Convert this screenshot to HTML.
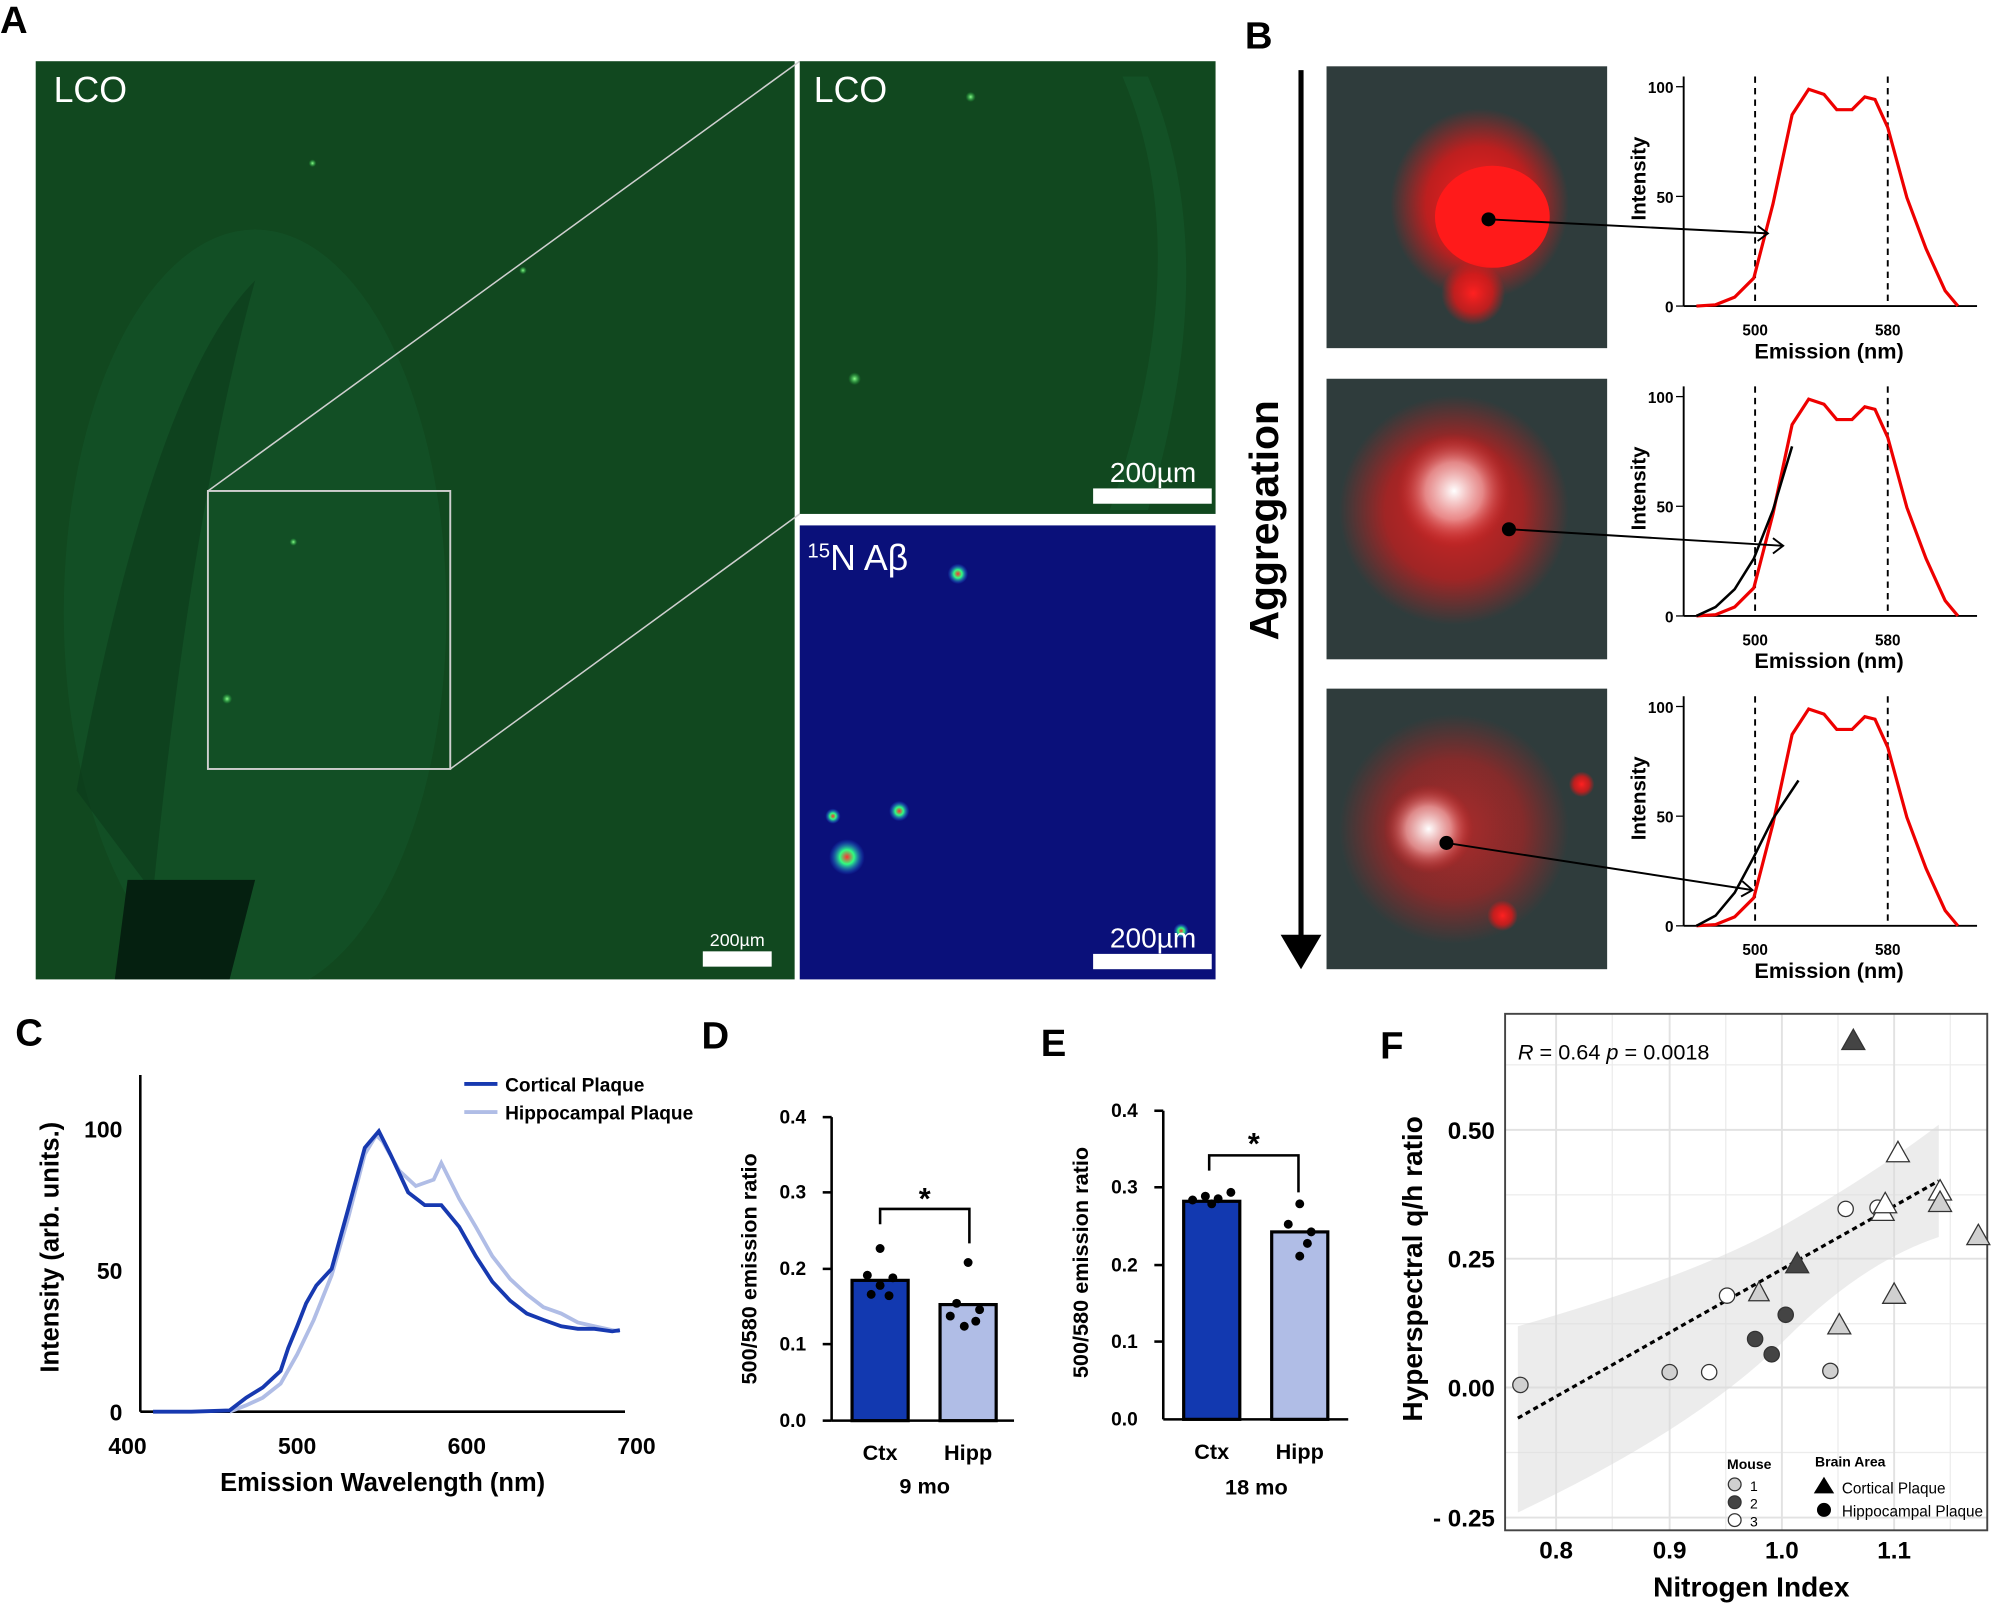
<!DOCTYPE html>
<html><head><meta charset="utf-8"><style>html,body{margin:0;padding:0;background:#fff}svg{display:block}text{font-family:"Liberation Sans",sans-serif}</style></head><body>
<svg width="2000" height="1603" viewBox="0 0 1568 1257" preserveAspectRatio="none" xmlns="http://www.w3.org/2000/svg">
<defs>
<clipPath id="ca"><rect x="28" y="48" width="595" height="720"/></clipPath>
<radialGradient id="rb" cx="50%" cy="50%" r="50%"><stop offset="0" stop-color="#ff2020"/><stop offset="0.6" stop-color="#e01818" stop-opacity="0.8"/><stop offset="1" stop-color="#e01818" stop-opacity="0"/></radialGradient>
<radialGradient id="wb" cx="50%" cy="50%" r="50%"><stop offset="0" stop-color="#ffffff"/><stop offset="0.5" stop-color="#f0a0a0" stop-opacity="0.8"/><stop offset="1" stop-color="#d02020" stop-opacity="0"/></radialGradient>
<radialGradient id="gd" cx="50%" cy="50%" r="50%"><stop offset="0" stop-color="#8cff8c"/><stop offset="1" stop-color="#20c040" stop-opacity="0"/></radialGradient>
<radialGradient id="nd" cx="50%" cy="50%" r="50%"><stop offset="0" stop-color="#ff3030"/><stop offset="0.4" stop-color="#30ff80"/><stop offset="1" stop-color="#2060ff" stop-opacity="0"/></radialGradient>
</defs>
<!-- Panel A -->
<text x="0" y="26" font-size="30" font-weight="bold">A</text>
<rect x="28" y="48" width="595" height="720" fill="#11481f"/>
<g clip-path="url(#ca)">
<ellipse cx="200" cy="480" rx="150" ry="300" fill="#14552a" opacity="0.6"/>
<path d="M60 620 Q120 300 200 220 Q150 400 120 700 Z" fill="#0c3a1a" opacity="0.6"/>
<path d="M100 690 L200 690 L180 768 L90 768 Z" fill="#052010"/>
</g>
<rect x="163" y="385" width="190" height="218" fill="none" stroke="#cfcfcf" stroke-width="1.5"/>
<line x1="163" y1="385" x2="627" y2="48" stroke="#cfcfcf" stroke-width="1.2"/>
<line x1="353" y1="603" x2="627" y2="403" stroke="#cfcfcf" stroke-width="1.2"/>
<text x="42" y="80" font-size="28" fill="#fff">LCO</text>
<rect x="551" y="746" width="54" height="12" fill="#fff"/>
<text x="578" y="742" font-size="14" fill="#fff" text-anchor="middle">200µm</text>
<circle cx="245" cy="128" r="3" fill="url(#gd)"/><circle cx="178" cy="548" r="4" fill="url(#gd)"/><circle cx="230" cy="425" r="3" fill="url(#gd)"/><circle cx="410" cy="212" r="3" fill="url(#gd)"/>
<rect x="627" y="48" width="326" height="355" fill="#11481f"/>
<path d="M880 60 Q940 200 870 400 L900 400 Q960 200 900 60Z" fill="#14552a" opacity="0.7"/>
<text x="638" y="80" font-size="28" fill="#fff">LCO</text>
<circle cx="670" cy="297" r="5" fill="url(#gd)"/><circle cx="761" cy="76" r="4" fill="url(#gd)"/>
<rect x="857" y="383" width="93" height="12" fill="#fff"/>
<text x="904" y="378" font-size="22" fill="#fff" text-anchor="middle">200µm</text>
<rect x="627" y="412" width="326" height="356" fill="#0a107a"/>
<circle cx="664" cy="672" r="14" fill="url(#nd)"/><circle cx="705" cy="636" r="8" fill="url(#nd)"/><circle cx="751" cy="450" r="8" fill="url(#nd)"/><circle cx="653" cy="640" r="6" fill="url(#nd)"/><circle cx="926" cy="730" r="6" fill="url(#nd)"/>
<text x="633" y="447" font-size="28" fill="#fff"><tspan font-size="16" dy="-10">15</tspan><tspan dy="10">N Aβ</tspan></text>
<rect x="857" y="748" width="93" height="12" fill="#fff"/>
<text x="904" y="743" font-size="22" fill="#fff" text-anchor="middle">200µm</text>
<!-- Panel B -->
<text x="976" y="38" font-size="30" font-weight="bold">B</text>
<line x1="1020" y1="55" x2="1020" y2="735" stroke="#000" stroke-width="4"/>
<polygon points="1004,733 1036,733 1020,760" fill="#000"/>
<text transform="translate(1002,408) rotate(-90)" font-size="32" font-weight="bold" text-anchor="middle">Aggregation</text>
<rect x="1040" y="52" width="220" height="221" fill="#2f3c3c"/>
<ellipse cx="1160" cy="160" rx="70" ry="75" fill="url(#rb)"/><ellipse cx="1170" cy="170" rx="45" ry="40" fill="#ff1a1a"/><ellipse cx="1155" cy="230" rx="25" ry="25" fill="url(#rb)"/>
<rect x="1040" y="297" width="220" height="220" fill="#2f3c3c"/>
<ellipse cx="1140" cy="400" rx="90" ry="90" fill="url(#rb)" opacity="0.8"/><ellipse cx="1140" cy="385" rx="45" ry="45" fill="url(#wb)"/>
<rect x="1040" y="540" width="220" height="220" fill="#2f3c3c"/>
<ellipse cx="1140" cy="650" rx="90" ry="90" fill="url(#rb)" opacity="0.6"/><ellipse cx="1120" cy="650" rx="35" ry="35" fill="url(#wb)"/><circle cx="1178" cy="718" r="12" fill="url(#rb)"/><circle cx="1240" cy="615" r="10" fill="url(#rb)"/>
<g id="bp">
<line x1="1320" y1="60" x2="1320" y2="240" stroke="#000" stroke-width="1.5"/>
<line x1="1320" y1="240" x2="1550" y2="240" stroke="#000" stroke-width="1.5"/>
<line x1="1314" y1="68" x2="1320" y2="68" stroke="#000"/><line x1="1314" y1="154" x2="1320" y2="154" stroke="#000"/><line x1="1314" y1="240" x2="1320" y2="240" stroke="#000"/>
<text x="1312" y="73" font-size="12" font-weight="bold" text-anchor="end">100</text><text x="1312" y="159" font-size="12" font-weight="bold" text-anchor="end">50</text><text x="1312" y="245" font-size="12" font-weight="bold" text-anchor="end">0</text>
<text x="1376" y="263" font-size="12" font-weight="bold" text-anchor="middle">500</text><text x="1480" y="263" font-size="12" font-weight="bold" text-anchor="middle">580</text>
<text x="1434" y="281" font-size="17" font-weight="bold" text-anchor="middle">Emission (nm)</text>
<text transform="translate(1290,140) rotate(-90)" font-size="16" font-weight="bold" text-anchor="middle">Intensity</text>
<line x1="1376" y1="60" x2="1376" y2="240" stroke="#000" stroke-dasharray="5,4" stroke-width="1.5"/>
<line x1="1480" y1="60" x2="1480" y2="240" stroke="#000" stroke-dasharray="5,4" stroke-width="1.5"/>
<polyline points="1330,240 1345,239 1360,233 1375,218 1390,160 1405,90 1418,70 1430,74 1440,86 1452,86 1462,76 1470,78 1480,100 1495,155 1510,195 1525,228 1535,240" fill="none" stroke="#e00" stroke-width="2.5"/>
</g>
<use href="#bp" y="243"/>
<use href="#bp" y="486"/>
<polyline points="1330,483 1345,476 1360,462 1375,438 1390,400 1405,350" fill="none" stroke="#000" stroke-width="2"/>
<polyline points="1330,726 1345,718 1360,700 1375,672 1390,642 1410,612" fill="none" stroke="#000" stroke-width="2"/>
<circle cx="1167" cy="172" r="5.5" fill="#000"/><line x1="1167" y1="172" x2="1386" y2="183" stroke="#000" stroke-width="1.5"/><polyline points="1378,177 1386,183 1378,189" fill="none" stroke="#000" stroke-width="1.5"/>
<circle cx="1183" cy="415" r="5.5" fill="#000"/><line x1="1183" y1="415" x2="1398" y2="428" stroke="#000" stroke-width="1.5"/><polyline points="1390,422 1398,428 1390,434" fill="none" stroke="#000" stroke-width="1.5"/>
<circle cx="1134" cy="661" r="5.5" fill="#000"/><line x1="1134" y1="661" x2="1374" y2="698" stroke="#000" stroke-width="1.5"/><polyline points="1366,691 1374,698 1365,703" fill="none" stroke="#000" stroke-width="1.5"/>
<!-- Panel C -->
<text x="12" y="820" font-size="30" font-weight="bold">C</text>
<line x1="110" y1="843" x2="110" y2="1107" stroke="#000" stroke-width="2"/>
<line x1="110" y1="1107" x2="490" y2="1107" stroke="#000" stroke-width="2"/>
<text x="96" y="892" font-size="18" font-weight="bold" text-anchor="end">100</text><text x="96" y="1003" font-size="18" font-weight="bold" text-anchor="end">50</text><text x="96" y="1114" font-size="18" font-weight="bold" text-anchor="end">0</text>
<text x="100" y="1140" font-size="18" font-weight="bold" text-anchor="middle">400</text><text x="233" y="1140" font-size="18" font-weight="bold" text-anchor="middle">500</text><text x="366" y="1140" font-size="18" font-weight="bold" text-anchor="middle">600</text><text x="499" y="1140" font-size="18" font-weight="bold" text-anchor="middle">700</text>
<text x="300" y="1169" font-size="20" font-weight="bold" text-anchor="middle">Emission Wavelength (nm)</text>
<text transform="translate(46,978) rotate(-90)" font-size="20" font-weight="bold" text-anchor="middle">Intensity (arb. units.)</text>
<polyline points="180,1107 193,1102 206,1096 220,1085 233,1062 246,1035 260,1000 273,955 286,905 295,890 300,895 313,918 326,930 340,925 346,912 360,940 373,962 386,985 400,1003 413,1015 426,1025 440,1030 453,1037 466,1040 480,1043 486,1044" fill="none" stroke="#b0bde6" stroke-width="3"/>
<polyline points="120,1107 150,1107 180,1106 193,1096 206,1088 220,1075 226,1057 233,1040 240,1022 248,1008 260,995 273,948 286,900 297,887 306,905 320,935 333,945 346,945 360,962 373,985 386,1005 400,1020 413,1030 426,1035 440,1040 453,1042 466,1042 480,1044 486,1043" fill="none" stroke="#1739b0" stroke-width="3"/>
<line x1="364" y1="850" x2="390" y2="850" stroke="#1739b0" stroke-width="3"/><text x="396" y="856" font-size="15" font-weight="bold">Cortical Plaque</text>
<line x1="364" y1="872" x2="390" y2="872" stroke="#b0bde6" stroke-width="3"/><text x="396" y="878" font-size="15" font-weight="bold">Hippocampal Plaque</text>
<!-- Panel D -->
<text x="550" y="822" font-size="30" font-weight="bold">D</text>
<line x1="652" y1="876" x2="652" y2="1114" stroke="#000" stroke-width="2"/>
<line x1="652" y1="1114" x2="795" y2="1114" stroke="#000" stroke-width="2"/>
<g font-size="15" font-weight="bold" text-anchor="end"><text x="632" y="881">0.4</text><text x="632" y="940">0.3</text><text x="632" y="1000">0.2</text><text x="632" y="1059">0.1</text><text x="632" y="1119">0.0</text></g>
<g stroke="#000" stroke-width="2"><line x1="645" y1="876" x2="652" y2="876"/><line x1="645" y1="935" x2="652" y2="935"/><line x1="645" y1="995" x2="652" y2="995"/><line x1="645" y1="1054" x2="652" y2="1054"/><line x1="645" y1="1114" x2="652" y2="1114"/></g>
<rect x="668" y="1004" width="44" height="110" fill="#1239b0" stroke="#000" stroke-width="2.5"/>
<rect x="737" y="1023" width="44" height="91" fill="#b0bde6" stroke="#000" stroke-width="2.5"/>
<g fill="#000"><circle cx="690" cy="979" r="3.5"/><circle cx="680" cy="1000" r="3.5"/><circle cx="700" cy="1002" r="3.5"/><circle cx="683" cy="1015" r="3.5"/><circle cx="697" cy="1016" r="3.5"/><circle cx="690" cy="1008" r="3.5"/>
<circle cx="759" cy="990" r="3.5"/><circle cx="750" cy="1022" r="3.5"/><circle cx="768" cy="1027" r="3.5"/><circle cx="756" cy="1040" r="3.5"/><circle cx="765" cy="1036" r="3.5"/><circle cx="745" cy="1032" r="3.5"/></g>
<polyline points="690,960 690,948 760,948 760,975" fill="none" stroke="#000" stroke-width="2"/>
<text x="725" y="948" font-size="24" font-weight="bold" text-anchor="middle">*</text>
<text x="690" y="1145" font-size="17" font-weight="bold" text-anchor="middle">Ctx</text><text x="759" y="1145" font-size="17" font-weight="bold" text-anchor="middle">Hipp</text>
<text x="725" y="1171" font-size="17" font-weight="bold" text-anchor="middle">9 mo</text>
<text transform="translate(593,995) rotate(-90)" font-size="17" font-weight="bold" text-anchor="middle">500/580 emission ratio</text>
<!-- Panel E -->
<text x="816" y="828" font-size="30" font-weight="bold">E</text>
<line x1="912" y1="871" x2="912" y2="1113" stroke="#000" stroke-width="2"/>
<line x1="912" y1="1113" x2="1057" y2="1113" stroke="#000" stroke-width="2"/>
<g font-size="15" font-weight="bold" text-anchor="end"><text x="892" y="876">0.4</text><text x="892" y="936">0.3</text><text x="892" y="997">0.2</text><text x="892" y="1057">0.1</text><text x="892" y="1118">0.0</text></g>
<g stroke="#000" stroke-width="2"><line x1="905" y1="871" x2="912" y2="871"/><line x1="905" y1="931" x2="912" y2="931"/><line x1="905" y1="992" x2="912" y2="992"/><line x1="905" y1="1052" x2="912" y2="1052"/></g>
<rect x="928" y="942" width="44" height="171" fill="#1239b0" stroke="#000" stroke-width="2.5"/>
<rect x="997" y="966" width="44" height="147" fill="#b0bde6" stroke="#000" stroke-width="2.5"/>
<g fill="#000"><circle cx="935" cy="941" r="3.5"/><circle cx="945" cy="938" r="3.5"/><circle cx="955" cy="940" r="3.5"/><circle cx="965" cy="935" r="3.5"/><circle cx="950" cy="944" r="3.5"/>
<circle cx="1019" cy="944" r="3.5"/><circle cx="1010" cy="960" r="3.5"/><circle cx="1028" cy="966" r="3.5"/><circle cx="1019" cy="985" r="3.5"/><circle cx="1025" cy="975" r="3.5"/></g>
<polyline points="948,918 948,906 1018,906 1018,935" fill="none" stroke="#000" stroke-width="2"/>
<text x="983" y="905" font-size="24" font-weight="bold" text-anchor="middle">*</text>
<text x="950" y="1144" font-size="17" font-weight="bold" text-anchor="middle">Ctx</text><text x="1019" y="1144" font-size="17" font-weight="bold" text-anchor="middle">Hipp</text>
<text x="985" y="1172" font-size="17" font-weight="bold" text-anchor="middle">18 mo</text>
<text transform="translate(853,990) rotate(-90)" font-size="17" font-weight="bold" text-anchor="middle">500/580 emission ratio</text>
<!-- Panel F -->
<text x="1082" y="830" font-size="30" font-weight="bold">F</text>
<g stroke="#ececec" stroke-width="1">
<line x1="1180" y1="835" x2="1558" y2="835"/><line x1="1180" y1="937" x2="1558" y2="937"/><line x1="1180" y1="1038" x2="1558" y2="1038"/><line x1="1180" y1="1139" x2="1558" y2="1139"/>
<line x1="1264" y1="795" x2="1264" y2="1200"/><line x1="1353" y1="795" x2="1353" y2="1200"/><line x1="1441" y1="795" x2="1441" y2="1200"/><line x1="1529" y1="795" x2="1529" y2="1200"/>
</g>
<g stroke="#e2e2e2" stroke-width="1.5">
<line x1="1180" y1="886" x2="1558" y2="886"/><line x1="1180" y1="987" x2="1558" y2="987"/><line x1="1180" y1="1088" x2="1558" y2="1088"/><line x1="1180" y1="1190" x2="1558" y2="1190"/>
<line x1="1220" y1="795" x2="1220" y2="1200"/><line x1="1309" y1="795" x2="1309" y2="1200"/><line x1="1397" y1="795" x2="1397" y2="1200"/><line x1="1485" y1="795" x2="1485" y2="1200"/>
</g>
<path d="M1190 1040 Q1330 1000 1400 960 Q1470 920 1520 882 L1520 970 Q1460 990 1400 1050 Q1330 1120 1190 1186 Z" fill="#d9d9d9" opacity="0.5"/>
<line x1="1190" y1="1112" x2="1520" y2="926" stroke="#000" stroke-width="2.5" stroke-dasharray="4,3"/>
<rect x="1180" y="795" width="378" height="405" fill="none" stroke="#444" stroke-width="1.5"/>
<text x="1190" y="831" font-size="17"><tspan font-style="italic">R</tspan> = 0.64  <tspan font-style="italic">p</tspan> = 0.0018</text>
<g font-size="19" font-weight="bold" text-anchor="end"><text x="1172" y="893">0.50</text><text x="1172" y="994">0.25</text><text x="1172" y="1095">0.00</text><text x="1172" y="1197">- 0.25</text></g>
<g font-size="19" font-weight="bold" text-anchor="middle"><text x="1220" y="1222">0.8</text><text x="1309" y="1222">0.9</text><text x="1397" y="1222">1.0</text><text x="1485" y="1222">1.1</text></g>
<text x="1373" y="1252" font-size="22" font-weight="bold" text-anchor="middle">Nitrogen Index</text>
<text transform="translate(1115,995) rotate(-90)" font-size="22" font-weight="bold" text-anchor="middle">Hyperspectral q/h ratio</text>
<g stroke="#333" stroke-width="1">
<circle cx="1192" cy="1086" r="6" fill="#d0d0d0"/><circle cx="1309" cy="1076" r="6" fill="#d0d0d0"/><circle cx="1435" cy="1075" r="6" fill="#d0d0d0"/>
<circle cx="1340" cy="1076" r="6" fill="#fff"/><circle cx="1447" cy="948" r="6" fill="#fff"/><circle cx="1472" cy="947" r="6" fill="#fff"/>
<circle cx="1376" cy="1050" r="6" fill="#444"/><circle cx="1389" cy="1062" r="6" fill="#444"/><circle cx="1400" cy="1031" r="6" fill="#444"/>
<polygon points="1379,1005 1387,1020 1371,1020" fill="#d0d0d0"/>
<circle cx="1354" cy="1016" r="6" fill="#fff"/>
<polygon points="1409,982 1418,998 1400,998" fill="#444"/>
<polygon points="1453,807 1462,823 1444,823" fill="#444"/>
<polygon points="1476,941 1485,957 1467,957" fill="#fff"/><polygon points="1478,935 1487,951 1469,951" fill="#fff"/>
<polygon points="1488,895 1497,911 1479,911" fill="#fff"/><polygon points="1521,925 1530,941 1512,941" fill="#fff"/>
<polygon points="1521,934 1530,950 1512,950" fill="#d0d0d0"/><polygon points="1551,960 1560,976 1542,976" fill="#d0d0d0"/>
<polygon points="1485,1006 1494,1022 1476,1022" fill="#d0d0d0"/><polygon points="1442,1030 1451,1046 1433,1046" fill="#d0d0d0"/>
</g>
<text x="1354" y="1152" font-size="11" font-weight="bold">Mouse</text>
<circle cx="1360" cy="1164" r="5" fill="#d0d0d0" stroke="#333"/><text x="1372" y="1169" font-size="11">1</text>
<circle cx="1360" cy="1178" r="5" fill="#444" stroke="#333"/><text x="1372" y="1183" font-size="11">2</text>
<circle cx="1360" cy="1192" r="5" fill="#fff" stroke="#333"/><text x="1372" y="1197" font-size="11">3</text>
<text x="1423" y="1150" font-size="11" font-weight="bold">Brain Area</text>
<polygon points="1430,1158 1438,1171 1422,1171" fill="#000"/><text x="1444" y="1171" font-size="12">Cortical Plaque</text>
<circle cx="1430" cy="1184" r="5.5" fill="#000"/><text x="1444" y="1189" font-size="12">Hippocampal Plaque</text>
</svg>
</body></html>
